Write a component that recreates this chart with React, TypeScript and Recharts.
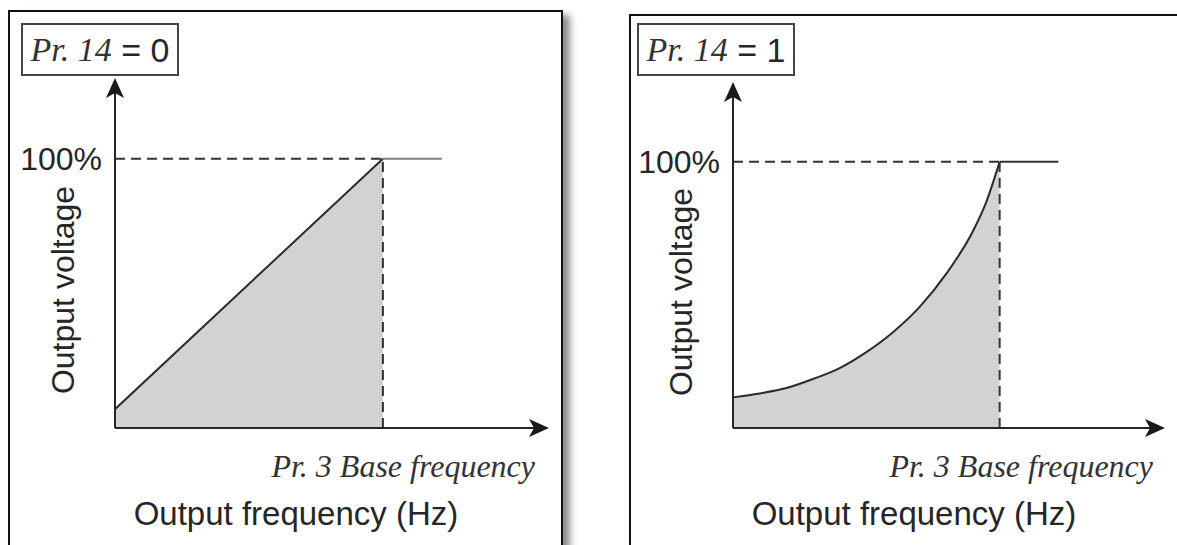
import React from 'react';
import { Area, ComposedChart, Line, ReferenceLine, XAxis, YAxis } from 'recharts';

// V/F pattern, Pr.14 = 0 (constant torque) and Pr.14 = 1 (variable torque)
const linearFreq = [0, 100];
const linearVolt = [7, 100];

const curveFreq = [0, 10, 20, 30, 40, 50, 60, 70, 80, 90, 95, 100];
const curveVolt = [11.5, 13, 15, 18.4, 22.5, 28.5, 36, 45.5, 58, 74, 85, 100];

const flatFreq = [100, 122];
const flatVolt = [100, 100];

const yTicks = [100];
const freqMax = 162;
const voltMax = 130;

const SANS = '"Liberation Sans", Arial, sans-serif';
const SERIF = '"Liberation Serif", "Times New Roman", serif';
const INK = '#262626';

const toRows = (f: number[], v: number[]) => f.map((x, i) => ({ f: x, v: v[i] }));

// axis line with a filled arrow head at (x2, y2)
const ArrowLine = (props: any) => {
  const { x1, y1, x2, y2 } = props;
  const dx = x2 - x1;
  const dy = y2 - y1;
  const len = Math.hypot(dx, dy) || 1;
  const ux = dx / len;
  const uy = dy / len;
  const px = -uy;
  const py = ux;
  const L = 20, W = 9, N = 5;
  const bx = x2 - ux * L;
  const by = y2 - uy * L;
  const nx = x2 - ux * (L - N);
  const ny = y2 - uy * (L - N);
  const pts = [
    [x2, y2],
    [bx + px * W, by + py * W],
    [nx, ny],
    [bx - px * W, by - py * W],
  ].map((p) => p.join(',')).join(' ');
  return (
    <g>
      <line x1={x1} y1={y1} x2={nx} y2={ny} stroke={INK} strokeWidth={2} />
      <polygon points={pts} fill="#1a1a1a" />
    </g>
  );
};

interface PanelProps {
  boxLeft: number;
  boxTop: number;
  tagLeft: number;
  value: string;
  chartLeft: number;
  chartWidth: number;
  marginTop: number;
  marginRight: number;
  curve: { f: number; v: number }[];
  curveType: 'linear' | 'monotone';
  flatStroke: string;
}

function Panel(p: PanelProps) {
  const flat = toRows(flatFreq, flatVolt);
  return (
    <>
      <div
        style={{
          position: 'absolute',
          left: p.boxLeft,
          top: p.boxTop,
          width: 555,
          height: 620,
          border: '2px solid #111',
          boxSizing: 'border-box',
          background: '#fff',
          boxShadow: '7px 5px 7px rgba(0,0,0,0.45)',
        }}
      />
      <div
        style={{
          position: 'absolute',
          left: p.chartLeft,
          top: 0,
          width: p.chartWidth,
          height: 545,
          fontFamily: SANS,
        }}
      >
        <ComposedChart
          width={p.chartWidth}
          height={545}
          margin={{ top: p.marginTop, right: p.marginRight, left: 0, bottom: 0 }}
        >
          <XAxis
            dataKey="f"
            type="number"
            domain={[0, freqMax]}
            allowDataOverflow
            height={117}
            axisLine={false}
            tickLine={false}
            tick={false}
            label={(lp: any) => {
              const vb = lp.viewBox;
              return (
                <g>
                  <text
                    x={vb.x + 420}
                    y={vb.y + 49}
                    textAnchor="end"
                    fontFamily={SERIF}
                    fontStyle="italic"
                    fontSize={32}
                    fill="#333"
                  >
                    Pr. 3 Base frequency
                  </text>
                  <text
                    x={vb.x + 181}
                    y={vb.y + 97}
                    textAnchor="middle"
                    fontFamily={SANS}
                    fontSize={33}
                    fill={INK}
                  >
                    Output frequency (Hz)
                  </text>
                </g>
              );
            }}
          />
          <YAxis
            type="number"
            domain={[0, voltMax]}
            allowDataOverflow
            ticks={yTicks}
            interval={0}
            width={115}
            axisLine={false}
            tickLine={false}
            tickMargin={7}
            tickFormatter={(v: number) => `${v}%`}
            tick={{ fontSize: 32, fill: INK, fontFamily: SANS }}
            label={(lp: any) => {
              const vb = lp.viewBox;
              const cx = vb.x + 63;
              const cy = vb.y + vb.height / 2 + 37;
              return (
                <text
                  x={cx}
                  y={cy}
                  transform={`rotate(-90, ${cx}, ${cy})`}
                  textAnchor="middle"
                  dominantBaseline="central"
                  fontFamily={SANS}
                  fontSize={32}
                  fill={INK}
                >
                  Output voltage
                </text>
              );
            }}
          />
          <Area
            data={p.curve}
            dataKey="v"
            type={p.curveType}
            fill="#d1d2d4"
            fillOpacity={1}
            stroke="none"
            isAnimationActive={false}
            dot={false}
            activeDot={false}
          />
          <ReferenceLine
            segment={[{ x: 0, y: 100 }, { x: 100, y: 100 }]}
            stroke="#333"
            strokeWidth={2}
            strokeDasharray="10 6"
          />
          <ReferenceLine
            segment={[{ x: 100, y: 0 }, { x: 100, y: 100 }]}
            stroke="#333"
            strokeWidth={2}
            strokeDasharray="10 6"
          />
          <Line
            data={p.curve}
            dataKey="v"
            type={p.curveType}
            stroke="#2b2b2b"
            strokeWidth={2}
            dot={false}
            activeDot={false}
            isAnimationActive={false}
          />
          <Line
            data={flat}
            dataKey="v"
            type="linear"
            stroke={p.flatStroke}
            strokeWidth={2}
            dot={false}
            activeDot={false}
            isAnimationActive={false}
          />
          <ReferenceLine segment={[{ x: 0, y: 0 }, { x: freqMax, y: 0 }]} shape={ArrowLine} />
          <ReferenceLine segment={[{ x: 0, y: 0 }, { x: 0, y: voltMax }]} shape={ArrowLine} />
        </ComposedChart>
      </div>
      <div
        style={{
          position: 'absolute',
          left: p.tagLeft,
          top: 23,
          width: 158,
          height: 53,
          border: '2px solid #444',
          boxSizing: 'border-box',
          background: '#fff',
          display: 'flex',
          alignItems: 'center',
          justifyContent: 'center',
          fontSize: 34,
          color: INK,
          whiteSpace: 'pre',
          lineHeight: 1,
        }}
      >
        <span style={{ fontFamily: SERIF, fontStyle: 'italic', color: '#333' }}>Pr. 14</span>
        <span style={{ fontFamily: SANS }}>{` = ${p.value}`}</span>
      </div>
    </>
  );
}

export default function App() {
  return (
    <div
      style={{
        position: 'absolute',
        left: 0,
        top: 0,
        width: 1177,
        height: 545,
        overflow: 'hidden',
        background: '#fff',
      }}
    >
      <Panel
        boxLeft={8}
        boxTop={10}
        tagLeft={21}
        value="0"
        chartLeft={0}
        chartWidth={580}
        marginTop={78}
        marginRight={31}
        curve={toRows(linearFreq, linearVolt)}
        curveType="linear"
        flatStroke="#808080"
      />
      <Panel
        boxLeft={629}
        boxTop={14}
        tagLeft={637}
        value="1"
        chartLeft={618}
        chartWidth={559}
        marginTop={82}
        marginRight={12}
        curve={toRows(curveFreq, curveVolt)}
        curveType="monotone"
        flatStroke="#333"
      />
    </div>
  );
}
